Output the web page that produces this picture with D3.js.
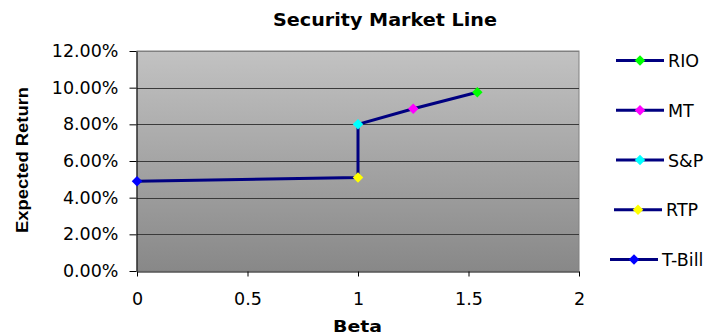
<!DOCTYPE html>
<html><head><meta charset="utf-8">
<script src="https://cdn.jsdelivr.net/npm/d3@7"></script>
<style>body{margin:0;background:#fff}svg{display:block}</style>
</head><body>
<script>
const names = ["T-Bill", "RTP", "S&P", "MT", "RIO"];
const betas = [0, 1, 1, 1.25, 1.54];
const returns = [0.049, 0.051, 0.080, 0.0885, 0.0975];
const colors = ["#0000ff", "#ffff00", "#00ffff", "#ff00ff", "#00ff00"];
const xTicks = [0, 0.5, 1, 1.5, 2];
const yTicks = [0, 0.02, 0.04, 0.06, 0.08, 0.10, 0.12];
const legendOrder = ["RIO", "MT", "S&P", "RTP", "T-Bill"];

const W = 718, H = 335;
const m = {left: 137, right: 579, top: 51, bottom: 271};
const svg = d3.select("body").append("svg").attr("width", W).attr("height", H);
svg.append("rect").attr("width", W).attr("height", H).attr("fill", "#fff");

const x = d3.scaleLinear().domain([0, 2]).range([m.left, m.right]);
const y = d3.scaleLinear().domain([0, 0.12]).range([m.bottom, m.top]);

const defs = svg.append("defs");
const g = defs.append("linearGradient").attr("id", "bg").attr("x1", 0).attr("y1", 0).attr("x2", 0).attr("y2", 1);
g.append("stop").attr("offset", "0%").attr("stop-color", "#c2c2c2");
g.append("stop").attr("offset", "100%").attr("stop-color", "#888888");

svg.append("rect").attr("x", m.left).attr("y", m.top).attr("width", m.right - m.left).attr("height", m.bottom - m.top)
  .attr("fill", "url(#bg)").attr("stroke", "#808080").attr("stroke-width", 1);

// gridlines
svg.append("g").selectAll("line").data(yTicks.slice(1)).join("line")
  .attr("x1", m.left).attr("x2", m.right)
  .attr("y1", d => Math.round(y(d)) + 0.5).attr("y2", d => Math.round(y(d)) + 0.5)
  .attr("stroke", d => d === 0.12 ? "#808080" : "#3a3a3a").attr("stroke-width", 1);

const font = "DejaVu Sans, Verdana, sans-serif";
// y axis
const ya = svg.append("g").attr("transform", `translate(${m.left - 0.5},0)`)
  .call(d3.axisLeft(y).tickValues(yTicks).tickFormat(d3.format(".2%")).tickSize(7).tickSizeOuter(0).tickPadding(11));
ya.select(".domain").attr("stroke", "#000");
ya.selectAll("line").attr("stroke", "#000");
ya.selectAll("text").attr("font-family", font).attr("font-size", 17.5).attr("fill", "#000");

// x axis
const xa = svg.append("g").attr("transform", `translate(0,${m.bottom + 0.5})`)
  .call(d3.axisBottom(x).tickValues(xTicks).tickFormat(d3.format("")).tickSize(5).tickSizeOuter(0).tickPadding(16));
xa.select(".domain").attr("stroke", "#000");
xa.selectAll("line").attr("stroke", "#000");
xa.selectAll("text").attr("font-family", font).attr("font-size", 17.5).attr("fill", "#000");

// line
const pts = names.map((n, i) => ({n, b: betas[i], r: returns[i], c: colors[i]}));
svg.append("path").datum(pts)
  .attr("d", d3.line().x(d => x(d.b)).y(d => y(d.r)))
  .attr("fill", "none").attr("stroke", "#000080").attr("stroke-width", 3);

const diamond = d3.symbol().type(d3.symbolDiamond2).size(70);
svg.append("g").selectAll("path").data(pts).join("path")
  .attr("transform", d => `translate(${x(d.b)},${y(d.r)})`)
  .attr("d", diamond).attr("fill", d => d.c);

// titles
svg.append("text").attr("x", 385).attr("y", 26).attr("text-anchor", "middle")
  .attr("font-family", font).attr("font-weight", "bold").attr("font-size", 18)
  .attr("textLength", 224).attr("lengthAdjust", "spacingAndGlyphs").text("Security Market Line");
svg.append("text").attr("x", 357.5).attr("y", 331.5).attr("text-anchor", "middle")
  .attr("font-family", font).attr("font-weight", "bold").attr("font-size", 15.5)
  .attr("textLength", 49).attr("lengthAdjust", "spacingAndGlyphs").text("Beta");
svg.append("text").attr("transform", "translate(28,160) rotate(-90)").attr("text-anchor", "middle")
  .attr("font-family", "Liberation Sans, Arial, sans-serif").attr("font-weight", "bold").attr("font-size", 17)
  .attr("textLength", 146).attr("lengthAdjust", "spacingAndGlyphs").text("Expected Return");

// legend
const legY = d3.scalePoint().domain(legendOrder).range([60.5, 259.5]);
const lx = [616, 616, 616, 614, 610];
const leg = svg.append("g").selectAll("g").data(legendOrder).join("g")
  .attr("transform", (d, i) => `translate(${lx[i]},${legY(d)})`);
leg.append("line").attr("x1", 0).attr("x2", 48).attr("stroke", "#000080").attr("stroke-width", 3);
leg.append("path").attr("transform", "translate(24,0)").attr("d", diamond)
  .attr("fill", d => colors[names.indexOf(d)]);
leg.append("text").attr("x", 52).attr("y", 6.5).attr("font-family", font).attr("font-size", 17.5).text(d => d);
</script>
</body></html>
